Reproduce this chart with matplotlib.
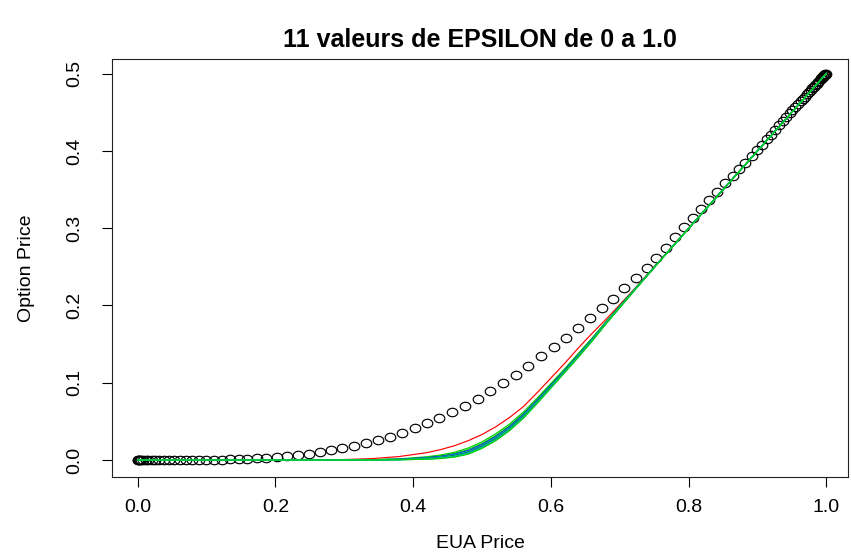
import matplotlib
matplotlib.use("Agg")
import matplotlib.pyplot as plt
from matplotlib.path import Path
from matplotlib.transforms import Affine2D

plt.rcParams['font.family'] = ['Liberation Sans', 'DejaVu Sans']

# open circles (reference option price)
eua_pts = [0.0, 0.0003, 0.0013, 0.0029, 0.0051, 0.0080, 0.0114, 0.0155, 0.0203, 0.0256,
           0.0315, 0.0381, 0.0452, 0.0529, 0.0612, 0.0700, 0.0794, 0.0893, 0.0997, 0.1107,
           0.1221, 0.1340, 0.1465, 0.1592, 0.1725, 0.1862, 0.2015, 0.2165, 0.2320, 0.2480,
           0.265, 0.281, 0.297, 0.314, 0.331, 0.349, 0.366, 0.384, 0.402, 0.420,
           0.438, 0.457, 0.476, 0.494, 0.512, 0.531, 0.549, 0.567, 0.586, 0.604,
           0.622, 0.639, 0.657, 0.674, 0.691, 0.707, 0.723, 0.739, 0.753, 0.767,
           0.781, 0.794, 0.806, 0.818, 0.830, 0.841, 0.853, 0.864, 0.873, 0.882,
           0.892, 0.899, 0.907, 0.914, 0.920, 0.926, 0.932, 0.937, 0.942, 0.947,
           0.951, 0.955, 0.959, 0.963, 0.966, 0.969, 0.972, 0.975, 0.978, 0.980,
           0.982, 0.984, 0.986, 0.988, 0.990, 0.992, 0.993, 0.994, 0.995, 0.996,
           0.997, 0.998, 0.999, 1.0]
opt_pts = [0.0, 0.0, 0.0, 0.0, 0.0, 0.0, 0.0, 0.0, 0.0, 0.0,
           0.0, 0.0, 0.0, 0.0, 0.0001, 0.0001, 0.0001, 0.0002, 0.0003, 0.0004,
           0.0006, 0.0009, 0.0013, 0.0018, 0.0024, 0.0031, 0.0040, 0.0051, 0.0064, 0.0081,
           0.0104, 0.0130, 0.0154, 0.0182, 0.0216, 0.0257, 0.0302, 0.0354, 0.0411, 0.0475,
           0.0546, 0.0624, 0.0705, 0.0794, 0.0890, 0.0993, 0.110, 0.122, 0.134, 0.146,
           0.158, 0.171, 0.184, 0.197, 0.209, 0.222, 0.236, 0.249, 0.262, 0.275,
           0.288, 0.301, 0.313, 0.325, 0.336, 0.347, 0.358, 0.368, 0.377, 0.385,
           0.394, 0.401, 0.408, 0.415, 0.421, 0.4275, 0.4335, 0.4385, 0.4435, 0.4485,
           0.4525, 0.4565, 0.4605, 0.4645, 0.4672, 0.4702, 0.4731, 0.4761, 0.4790, 0.4810,
           0.4830, 0.4850, 0.4869, 0.4889, 0.4909, 0.4928, 0.4938, 0.4948, 0.4958, 0.4968,
           0.4978, 0.4988, 0.4994, 0.5]

# curves for the 11 epsilon values
grid_x = [0.0, 0.1, 0.2, 0.25, 0.3, 0.34, 0.38, 0.42, 0.44, 0.46, 0.48, 0.50, 0.52, 0.54,
          0.56, 0.58, 0.60, 0.62, 0.64, 0.66, 0.68, 0.70, 0.72, 0.75, 0.8, 0.9, 1.0]
eps_values = [0.0, 0.1, 0.2, 0.3, 0.4, 0.5, 0.6, 0.7, 0.8, 0.9, 1.0]
curve_eps00 = [0, 0, 0, 0.0001, 0.0006, 0.0018, 0.0045, 0.0095, 0.0135, 0.0185, 0.025, 0.033, 0.043, 0.055,
               0.069, 0.087, 0.106, 0.125, 0.145, 0.164, 0.182, 0.201, 0.220, 0.250, 0.300, 0.400, 0.5]
curve_eps01 = [0, 0, 0, 0, 0.0001, 0.0004, 0.0015, 0.0042, 0.0065, 0.0100, 0.0155, 0.0235, 0.0340, 0.0465,
               0.0620, 0.0800, 0.0990, 0.1180, 0.1380, 0.1580, 0.1790, 0.1995, 0.2195, 0.2495, 0.2997, 0.3999, 0.5]
curve_eps02 = [0, 0, 0, 0, 0.0001, 0.0003, 0.0012, 0.0034, 0.0054, 0.0085, 0.0135, 0.0214, 0.0318, 0.0444,
               0.0600, 0.0783, 0.0975, 0.1168, 0.1368, 0.1570, 0.1783, 0.1989, 0.2191, 0.2494, 0.2996, 0.3999, 0.5]
curve_eps03 = [0, 0, 0, 0, 0.0001, 0.0003, 0.0010, 0.0029, 0.0046, 0.0074, 0.0121, 0.0199, 0.0302, 0.0429,
               0.0586, 0.0771, 0.0965, 0.1159, 0.1359, 0.1563, 0.1777, 0.1985, 0.2189, 0.2493, 0.2996, 0.3999, 0.5]
curve_eps04 = [0, 0, 0, 0, 0.0001, 0.0002, 0.0008, 0.0024, 0.0040, 0.0066, 0.0111, 0.0188, 0.0291, 0.0418,
               0.0576, 0.0762, 0.0957, 0.1153, 0.1353, 0.1558, 0.1774, 0.1981, 0.2187, 0.2492, 0.2996, 0.3999, 0.5]
curve_eps05 = [0, 0, 0, 0, 0.0, 0.0002, 0.0007, 0.0021, 0.0035, 0.0060, 0.0103, 0.0180, 0.0282, 0.0410,
               0.0568, 0.0755, 0.0951, 0.1148, 0.1348, 0.1554, 0.1771, 0.1979, 0.2185, 0.2492, 0.2996, 0.3999, 0.5]
curve_eps06 = [0, 0, 0, 0, 0.0, 0.0001, 0.0006, 0.0018, 0.0031, 0.0054, 0.0096, 0.0172, 0.0273, 0.0402,
               0.0561, 0.0748, 0.0946, 0.1143, 0.1343, 0.1550, 0.1768, 0.1977, 0.2184, 0.2491, 0.2996, 0.3999, 0.5]
curve_eps07 = [0, 0, 0, 0, 0.0, 0.0001, 0.0005, 0.0016, 0.0028, 0.0050, 0.0090, 0.0166, 0.0267, 0.0396,
               0.0555, 0.0743, 0.0941, 0.1140, 0.1340, 0.1548, 0.1766, 0.1975, 0.2183, 0.2491, 0.2996, 0.3999, 0.5]
curve_eps08 = [0, 0, 0, 0, 0.0, 0.0001, 0.0004, 0.0014, 0.0025, 0.0045, 0.0085, 0.0160, 0.0261, 0.0390,
               0.0550, 0.0738, 0.0937, 0.1136, 0.1336, 0.1545, 0.1764, 0.1973, 0.2182, 0.2490, 0.2995, 0.3998, 0.5]
curve_eps09 = [0, 0, 0, 0, 0.0, 0.0, 0.0004, 0.0012, 0.0022, 0.0042, 0.0080, 0.0155, 0.0255, 0.0385,
               0.0545, 0.0734, 0.0934, 0.1133, 0.1333, 0.1542, 0.1762, 0.1972, 0.2181, 0.2490, 0.2995, 0.3998, 0.5]
curve_eps10 = [0, 0, 0, 0, 0.0, 0.0, 0.0003, 0.0010, 0.0019, 0.0038, 0.0075, 0.0150, 0.0250, 0.0380,
               0.0540, 0.0730, 0.0930, 0.1130, 0.1330, 0.1540, 0.1760, 0.1970, 0.2180, 0.2490, 0.2995, 0.3998, 0.5]
curves = [curve_eps00, curve_eps01, curve_eps02, curve_eps03, curve_eps04, curve_eps05,
          curve_eps06, curve_eps07, curve_eps08, curve_eps09, curve_eps10]
line_colors = ['#FF0000', '#00CD00', '#00CD00', '#0000FF', '#00CDCD', '#00CD00',
               '#0000FF', '#00CDCD', '#00CD00', '#00CDCD', '#00CD00']

x_ticks = [0.0, 0.2, 0.4, 0.6, 0.8, 1.0]
y_ticks = [0.0, 0.1, 0.2, 0.3, 0.4, 0.5]

fig = plt.figure(figsize=(8.51, 5.58), dpi=100)
ax = fig.add_axes([112 / 851, 81 / 558, 736 / 851, 418 / 558])

# slightly flattened circle, like the R device output
oval = Path.unit_circle().transformed(Affine2D().scale(1.0, 0.8))
ax.plot(eua_pts, opt_pts, linestyle='none', marker=oval, markersize=7.6,
        markerfacecolor='none', markeredgecolor='black', markeredgewidth=0.85, zorder=2)

for eps, ys, col in zip(eps_values, curves, line_colors):
    ax.plot(grid_x, ys, color=col, linewidth=0.85, zorder=3, label=str(eps))

ax.set_xlim(-0.0375, 1.0317)
ax.set_ylim(-0.022, 0.519)
ax.set_xticks(x_ticks)
ax.set_xticklabels(['%.1f' % t for t in x_ticks])
ax.set_yticks(y_ticks)
ax.set_yticklabels(['%.1f' % t for t in y_ticks], rotation=90, va='center')
ax.tick_params(axis='x', length=7, width=0.8, pad=8.5, labelsize=14)
ax.tick_params(axis='y', length=7, width=0.8, pad=14, labelsize=14)
for side in ax.spines.values():
    side.set_linewidth(0.8)
    side.set_color('#222222')

ax.set_xlabel('EUA Price', fontsize=14, labelpad=14)
ax.set_ylabel('Option Price', fontsize=14, labelpad=22)
ax.set_title('11 valeurs de EPSILON de 0 a 1.0', fontsize=18, fontweight='bold', pad=9)

fig.savefig('out.png', dpi=100)
